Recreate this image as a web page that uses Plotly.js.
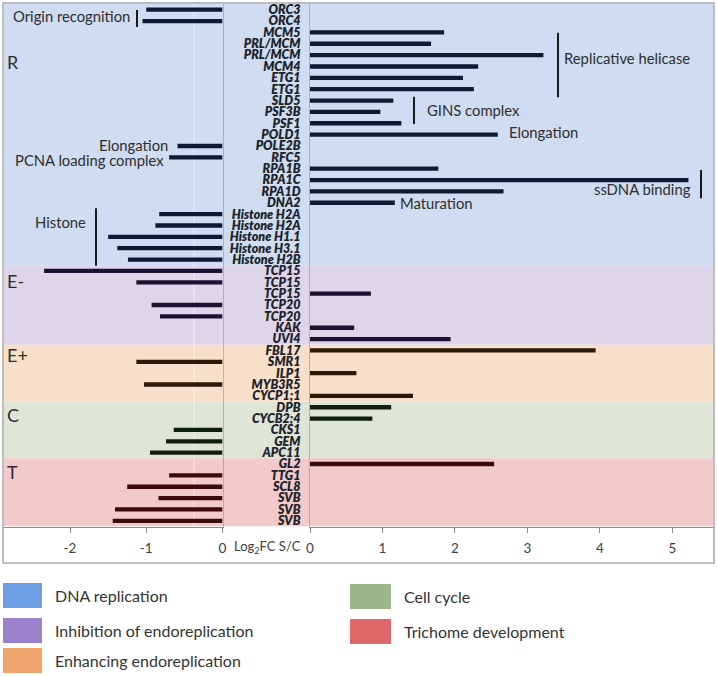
<!DOCTYPE html>
<html>
<head>
<meta charset="utf-8">
<script src="https://cdn.plot.ly/plotly-3.0.1.min.js"></script>
<style>html,body{margin:0;padding:0;background:#fff;}#chart{width:717px;height:676px;}</style>
</head>
<body>
<div id="chart"></div>
<script>
// ---------- data ----------
const genes = ["ORC3","ORC4","MCM5","PRL/MCM","PRL/MCM","MCM4","ETG1","ETG1","SLD5","PSF3B","PSF1","POLD1","POLE2B","RFC5","RPA1B","RPA1C","RPA1D","DNA2","Histone H2A","Histone H2A","Histone H1.1","Histone H3.1","Histone H2B","TCP15","TCP15","TCP15","TCP20","TCP20","KAK","UVI4","FBL17","SMR1","ILP1","MYB3R5","CYCP1;1","DPB","CYCB2;4","CKS1","GEM","APC11","GL2","TTG1","SCL8","SVB","SVB","SVB"];
const log2fc = [-1.00,-1.05,1.85,1.67,3.22,2.32,2.11,2.26,1.15,0.97,1.26,2.59,-0.59,-0.70,1.77,5.22,2.67,1.17,-0.83,-0.88,-1.50,-1.38,-1.24,-2.34,-1.13,0.84,-0.93,-0.82,0.61,1.94,3.94,-1.13,0.64,-1.03,1.42,1.12,0.86,-0.64,-0.74,-0.95,2.54,-0.70,-1.25,-0.84,-1.41,-1.44];
const groups = ["R","E-","E+","C","T"];
const groupSizes = [23,7,5,5,6];
const groupNames = ["DNA replication","Inhibition of endoreplication","Enhancing endoreplication","Cell cycle","Trichome development"];
const bandColors = ["#cfdcf1","#dfd5ea","#f8dfca","#dee5d6","#f2cacc"];
const barColors = ["#0e1a33","#1d1030","#2d1706","#0f1d10","#3a0a0c"];
const legendColors = ["#6e9fe4","#9b80cc","#efa46c","#9db58a","#e0676a"];
const leftTicks = [-2,-1,0];
const rightTicks = [0,1,2,3,4,5];
const xTitle = "Log<sub>2</sub>FC S/C";

// ---------- helpers ----------
const W = 717, H = 676;
const px = v => v / W;
const py = v => 1 - v / H;
const idx = genes.map((_, i) => i);
const groupIndex = [];
groupSizes.forEach((n, g) => { for (let k = 0; k < n; k++) groupIndex.push(g); });
const colorOfBar = groupIndex.map(g => barColors[g]);

const yDom = [py(526.5), py(4)];
const font = "Lato, 'Open Sans', sans-serif";

const traces = [
  {type:"bar", orientation:"h", x: log2fc.map(v => v < 0 ? v : null), y: idx,
   xaxis:"x", yaxis:"y", width:0.38, marker:{color: colorOfBar}, hoverinfo:"skip"},
  {type:"bar", orientation:"h", x: log2fc.map(v => v > 0 ? v : null), y: idx,
   xaxis:"x2", yaxis:"y2", width:0.38, marker:{color: colorOfBar}, hoverinfo:"skip"}
];

const shapes = [];
// background bands
let start = 0;
groupSizes.forEach((n, g) => {
  shapes.push({type:"rect", xref:"paper", yref:"y", x0:px(4), x1:px(713), y0:start-0.5, y1:start+n-0.5,
    fillcolor:bandColors[g], line:{width:0}, layer:"below"});
  start += n;
});
// faint vertical line
shapes.push({type:"line", xref:"paper", yref:"paper", x0:px(194), x1:px(194), y0:yDom[0], y1:yDom[1],
  line:{color:"rgba(255,255,255,0.55)", width:1}, layer:"below"});
// frame
shapes.push({type:"rect", xref:"paper", yref:"paper", x0:px(3), x1:px(714), y0:py(563), y1:py(3),
  line:{color:"#a8a8a8", width:1.5}, fillcolor:"rgba(0,0,0,0)"});
// brackets
const brackets = [[137,0.03,1.52],[558,2.03,7.71],[414,7.66,10.06],[701,14.11,16.6],[96,17.48,22.54]];
brackets.forEach(b => shapes.push({type:"line", xref:"paper", yref:"y", x0:px(b[0]), x1:px(b[0]), y0:b[1], y1:b[2],
  line:{color:"#1a1a1a", width:2}}));
// legend swatches
const legPos = [[3,42,583,608],[3,42,618,643],[3,42,648,673],[350,391,584,609],[350,391,619,644]];
legPos.forEach((p, i) => shapes.push({type:"rect", xref:"paper", yref:"paper", x0:px(p[0]), x1:px(p[1]), y0:py(p[3]), y1:py(p[2]),
  fillcolor:legendColors[i], line:{width:0}}));

const annotations = [];
const addText = (text, x, xanchor, row, size) => annotations.push({text, x:px(x), xref:"paper", xanchor,
  y:row, yref:"y", yanchor:"middle", showarrow:false, font:{family:font, size:size||14.8, color:"#2e2e2e"}});
addText("Origin recognition", 11, "left", 0.55);
addText("Replicative helicase", 562, "left", 4.28);
addText("GINS complex", 425, "left", 8.83);
addText("Elongation", 507, "left", 10.74);
addText("Elongation", 170, "right", 11.91);
addText("PCNA loading complex", 166, "right", 13.23);
addText("ssDNA binding", 693, "right", 15.81);
addText("Maturation", 398, "left", 16.99);
addText("Histone", 33, "left", 18.66);
const letterRows = [4.6, 23.86, 30.4, 35.68, 40.67];
groups.forEach((g, i) => addText(g, 5, "left", letterRows[i], 18));
// axis title between panels
annotations.push({text:xTitle, xref:"paper", x:px(267), xanchor:"center", yref:"paper", y:py(547), yanchor:"middle",
  showarrow:false, font:{family:font, size:13, color:"#404040"}});
// legend texts
legPos.forEach((p, i) => annotations.push({text:groupNames[i], xref:"paper", x:px(p[1] + 11), xanchor:"left",
  yref:"paper", y:py((p[2]+p[3])/2), yanchor:"middle", showarrow:false, font:{family:font, size:16, color:"#333"}}));

const tickFont = {family:font, size:13.5, color:"#404040"};
const layout = {
  width: W, height: H, margin:{l:0, r:0, t:0, b:0},
  paper_bgcolor:"#fff", plot_bgcolor:"rgba(0,0,0,0)", showlegend:false, barmode:"overlay",
  xaxis:{domain:[px(4), px(222.5)], range:[-2.866, 0], anchor:"y", showgrid:false, zeroline:false,
    showline:true, linecolor:"#8c8c8c", linewidth:1, ticks:"outside", ticklen:5, tickcolor:"#8c8c8c",
    tickvals:leftTicks, ticktext:leftTicks.map(String), tickfont:tickFont, ticklabelstandoff:4},
  xaxis2:{domain:[px(310), px(713)], range:[0, 5.559], anchor:"y2", showgrid:false, zeroline:false,
    showline:true, linecolor:"#8c8c8c", linewidth:1, ticks:"outside", ticklen:5, tickcolor:"#8c8c8c",
    tickvals:rightTicks, ticktext:rightTicks.map(String), tickfont:tickFont, ticklabelstandoff:4},
  yaxis:{domain:yDom, range:[45.5, -0.5], anchor:"x", side:"right", showgrid:false, zeroline:false,
    showline:true, linecolor:"rgba(140,140,140,0.55)", showticklabels:false, ticks:""},
  yaxis2:{domain:yDom, range:[45.5, -0.5], anchor:"x2", side:"left", showgrid:false, zeroline:false,
    showline:true, linecolor:"rgba(140,140,140,0.55)", ticks:"", tickvals:idx, ticktext:genes,
    ticklabelstandoff:6, tickfont:{family:font, size:12.5, weight:800, style:"italic", color:"#20232b"}},
  shapes, annotations
};
Plotly.newPlot("chart", traces, layout, {staticPlot:true, displayModeBar:false});
</script>
</body>
</html>
